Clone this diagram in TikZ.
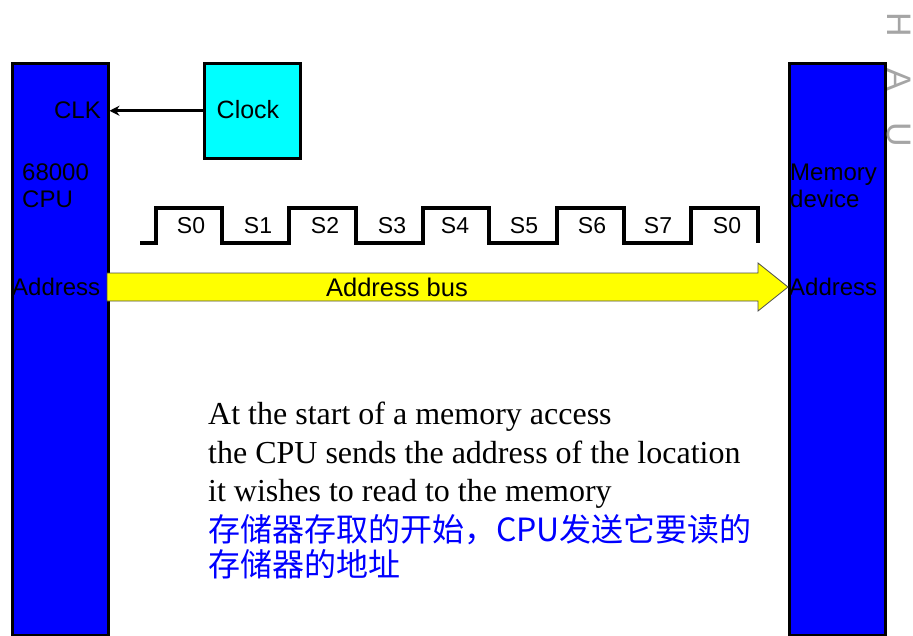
\documentclass[tikz,border=0pt]{standalone}
\usepackage{fontspec}
\setmainfont{Liberation Serif}
\newfontfamily\arialfont{Liberation Sans}
\newfontfamily\cjkfont{Noto Sans CJK SC}
\usetikzlibrary{arrows.meta}
\definecolor{chipblue}{RGB}{0,0,255}
\definecolor{clockcyan}{RGB}{0,255,255}
\definecolor{busyellow}{RGB}{255,255,0}
\definecolor{notegray}{RGB}{165,165,165}
\tikzset{
  unitbox/.style={draw=black, line width=2.5pt, fill=chipblue, inner sep=0pt, anchor=north west},
  clockbox/.style={draw=black, line width=2.5pt, fill=clockcyan, inner sep=0pt, anchor=north west,
    minimum width=96pt, minimum height=95pt},
  lbl/.style={inner sep=0pt, font=\arialfont\fontsize{24}{27}\selectfont},
  stlabel/.style={inner sep=0pt, font=\arialfont\fontsize{23}{27}\selectfont},
  wave/.style={line width=3.2pt, line join=miter},
  clkwire/.style={draw=black, line width=3pt, -{Stealth[length=10pt, width=10pt]}},
  engl/.style={inner sep=0pt, anchor=base west, font=\fontsize{32}{38}\selectfont},
  chin/.style={inner sep=0pt, anchor=base west, text=chipblue, font=\cjkfont\fontsize{32}{36}\selectfont},
  sideletter/.style={inner sep=0pt, anchor=base, rotate=-90, text=notegray, font=\arialfont\fontsize{34}{40}\selectfont}
}
\begin{document}
\begin{tikzpicture}[x=1pt,y=-1pt]
\useasboundingbox (0,0) rectangle (913,635);
\clip (0,0) rectangle (913,635);

% processor and memory blocks
\node[unitbox, minimum width=96pt, minimum height=572pt] (cpu) at (11,62) {};
\node[unitbox, minimum width=96pt, minimum height=572pt] (mem) at (788,62) {};

% clock generator feeding the CLK input
\node[clockbox] (clock) at (203,62) {};
\node[lbl, font=\arialfont\fontsize{25}{30}\selectfont] (clocktext) at (248,110) {Clock};
\draw[clkwire] (clock.west) -- (clock.west -| cpu.east);

% labels inside the processor
\node[lbl, anchor=east] (clk) at (101,110) {CLK};
\node[lbl, anchor=north west, align=left] (cpuname) at (22,164) {68000\\CPU};
\node[lbl, anchor=west] (cpuaddr) at (12,287) {Address};

% labels inside the memory
\node[lbl, anchor=north west, align=left] (memname) at (790,164) {Memory\\device};
\node[lbl, anchor=west] (memaddr) at (789,287) {Address};

% address bus arrow
\draw[fill=busyellow, draw=black!70, line width=0.8pt]
  (107,273) -- (758,273) -- (758,263) -- (788,287) -- (758,311) -- (758,301) -- (107,301) -- cycle;
\node[lbl, font=\arialfont\fontsize{25.5}{28}\selectfont] (bus) at (397,287) {Address bus};

% bus clock states S0..S7
\draw[wave] (140,243) -- (156,243) -- (156,208) -- (222,208) -- (222,243)
  -- (289,243) -- (289,208) -- (356,208) -- (356,243)
  -- (423,243) -- (423,208) -- (489,208) -- (489,243)
  -- (557,243) -- (557,208) -- (624,208) -- (624,243)
  -- (691,243) -- (691,208) -- (758,208) -- (758,243);
\node[stlabel] (s0) at (191,226) {S0};
\node[stlabel] (s1) at (258,226) {S1};
\node[stlabel] (s2) at (325,226) {S2};
\node[stlabel] (s3) at (392,226) {S3};
\node[stlabel] (s4) at (455,226) {S4};
\node[stlabel] (s5) at (524,226) {S5};
\node[stlabel] (s6) at (592,226) {S6};
\node[stlabel] (s7) at (658,226) {S7};
\node[stlabel] (s8) at (727,226) {S0};

% explanation
\node[engl] (t1) at (208,424) {At the start of a memory access};
\node[engl] (t2) at (208,463) {the CPU sends the address of the location};
\node[engl] (t3) at (208,501) {it wishes to read to the memory};
\node[chin] (t4) at (208,541) {存储器存取的开始，CPU发送它要读的};
\node[chin] (t5) at (208,576) {存储器的地址};

% grey side letters
\node[sideletter] (m1) at (887,25) {H};
\node[sideletter] (m2) at (887,80) {A};
\node[sideletter] (m3) at (887,135) {U};
\end{tikzpicture}
\end{document}
